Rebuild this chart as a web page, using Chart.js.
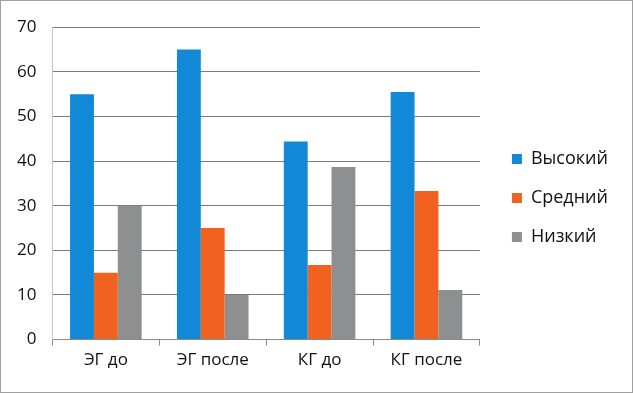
<!DOCTYPE html>
<html>
<head>
<meta charset="utf-8">
<script src="https://cdn.jsdelivr.net/npm/chart.js@4/dist/chart.umd.min.js"></script>
<style>
  html, body { margin: 0; padding: 0; background: #fff; }
  #wrap { width: 631px; height: 391px; border: 1px solid #a0a0a0; }
</style>
</head>
<body>
<div id="wrap"><canvas id="barChart" width="631" height="391"></canvas></div>
<script>
// Data
const groups = ['ЭГ до', 'ЭГ после', 'КГ до', 'КГ после'];
const high = [55, 65, 44.4, 55.5];
const middle = [15, 25, 16.7, 33.3];
const low = [30, 10, 38.7, 11.1];
const yTicks = [0, 10, 20, 30, 40, 50, 60, 70];

const font = { family: '"Open Sans", "Liberation Sans", sans-serif', size: 17 };
const legendFont = { family: '"Open Sans", "Liberation Sans", sans-serif', size: 18 };

// leave a wider gap between plot and legend, like the original
const legendGap = {
    id: 'legendGap',
    beforeLayout(chart) {
        const lg = chart.legend;
        if (lg && !lg._gapPatched) {
            const fit = lg.fit;
            lg.fit = function() { fit.call(this); this.width += 9; };
            lg._gapPatched = true;
        }
    },
    afterLayout(chart) {
        chart.legend.left += 11;
        chart.legend.top += 8;
        chart.legend.bottom += 8;
    }
};

const ctx = document.getElementById('barChart').getContext('2d');
const barChart = new Chart(ctx, {
    type: 'bar',
    data: {
        labels: groups,
        datasets: [
            { label: 'Высокий', data: high, backgroundColor: '#1289d6' },
            { label: 'Средний', data: middle, backgroundColor: '#f1611f' },
            { label: 'Низкий', data: low, backgroundColor: '#8e8f91' }
        ]
    },
    options: {
        responsive: false,
        animation: false,
        layout: { padding: { left: 0, top: 5, right: 16, bottom: 18 } },
        datasets: {
            bar: { categoryPercentage: 0.67, barPercentage: 1.0 }
        },
        scales: {
            x: {
                grid: { display: true, drawOnChartArea: false, offset: true, color: '#8a8a8a', tickLength: 6 },
                border: { color: '#8a8a8a' },
                ticks: { color: '#111', font: font, padding: 4 }
            },
            y: {
                min: 0,
                max: 70,
                afterBuildTicks: axis => { axis.ticks = yTicks.map(v => ({ value: v })); },
                grid: { color: '#7a7a7a', drawTicks: false },
                border: { display: true, color: '#c8c8c8' },
                ticks: { color: '#111', font: font, padding: 16 }
            }
        },
        plugins: {
            legend: {
                position: 'right',
                align: 'center',
                labels: {
                    color: '#111',
                    font: legendFont,
                    boxWidth: 10,
                    boxHeight: 10,
                    padding: 21
                }
            },
            tooltip: { enabled: false }
        }
    },
    plugins: [legendGap]
});
</script>
</body>
</html>
